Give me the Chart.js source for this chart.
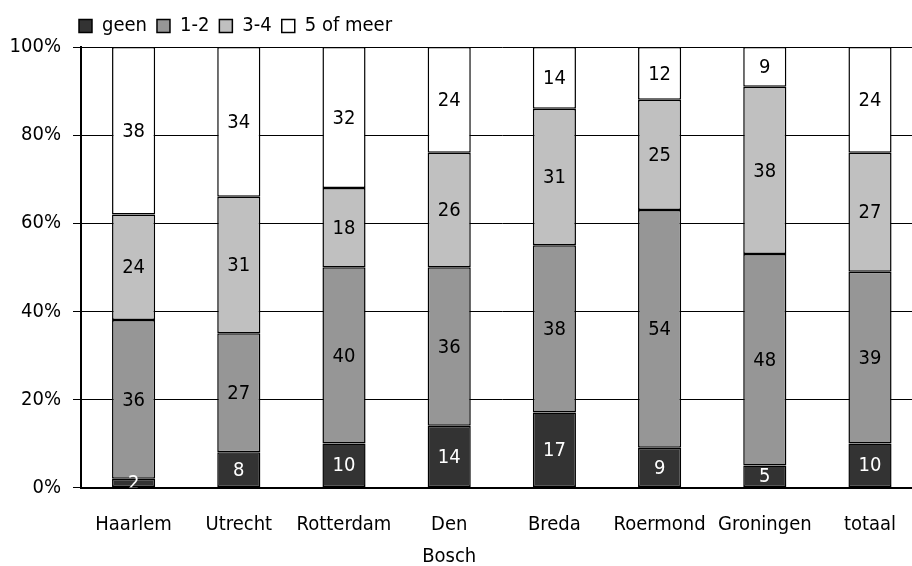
<!DOCTYPE html>
<html>
<head>
<meta charset="utf-8">
<script src="https://cdn.jsdelivr.net/npm/chart.js@4"></script>
<style>
  html, body { margin: 0; padding: 0; background: #fff; }
  #wrap { width: 912px; height: 566px; overflow: hidden; }
</style>
</head>
<body>
<div id="wrap"><canvas id="chart" width="930" height="566"></canvas></div>
<script>
/* ========= Data ========= */
const cities   = ['Haarlem', 'Utrecht', 'Rotterdam', ['Den', 'Bosch'], 'Breda', 'Roermond', 'Groningen', 'totaal'];
const geen     = [2, 8, 10, 14, 17, 9, 5, 10];
const een2     = [36, 27, 40, 36, 38, 54, 48, 39];
const drie4    = [24, 31, 18, 26, 31, 25, 38, 27];
const vijfPlus = [38, 34, 32, 24, 14, 12, 9, 24];
const yTicks   = [0, 20, 40, 60, 80, 100];

const FONT = "'DejaVu Sans Condensed', 'Liberation Sans Narrow', sans-serif";

/* ========= Plugins ========= */
// push legend to the right of the y axis and fix its height
const legendPos = {
  id: 'legendPos',
  beforeLayout(c) {
    const lg = c.legend;
    if (lg && !lg._patched) {
      const fit = lg.fit;
      lg.fit = function () { fit.call(this); this.height = 41; };
      lg._patched = true;
    }
  },
  afterLayout(c) { if (c.legend) c.legend.left = 69; }
};

// value in the middle of every segment
const segLabels = {
  id: 'segLabels',
  afterDatasetsDraw(c) {
    const ctx = c.ctx, a = c.chartArea;
    ctx.save();
    ctx.beginPath();
    ctx.rect(a.left, a.top, a.right - a.left, a.bottom - a.top);
    ctx.clip();
    ctx.font = '20px ' + FONT;
    ctx.textAlign = 'center';
    ctx.textBaseline = 'middle';
    c.data.datasets.forEach((ds, i) => {
      c.getDatasetMeta(i).data.forEach((bar, j) => {
        ctx.fillStyle = i === 0 ? '#ffffff' : '#000000';
        ctx.fillText(String(ds.data[j]), bar.x, (bar.y + bar.base) / 2 + 1);
      });
    });
    ctx.restore();
  }
};

/* ========= Chart ========= */
const mkSet = (label, data, color) => ({
  label, data,
  backgroundColor: color,
  borderColor: '#000000',
  borderWidth: 1.5,
  borderSkipped: false,
  barPercentage: 0.41,
  categoryPercentage: 1
});

new Chart(document.getElementById('chart'), {
  type: 'bar',
  data: {
    labels: cities,
    datasets: [
      mkSet('geen', geen, '#333333'),
      mkSet('1-2', een2, '#969696'),
      mkSet('3-4', drie4, '#c0c0c0'),
      mkSet('5 of meer', vijfPlus, '#ffffff')
    ]
  },
  options: {
    responsive: false,
    animation: false,
    layout: { padding: { top: 6, right: 7.4, left: 0, bottom: 0 } },
    plugins: {
      tooltip: { enabled: false },
      legend: {
        position: 'top',
        align: 'start',
        labels: {
          color: '#000',
          font: { family: FONT, size: 20 },
          boxWidth: 13,
          boxHeight: 13,
          padding: 10
        }
      }
    },
    scales: {
      x: {
        stacked: true,
        grid: { display: false, drawTicks: false },
        border: { display: true, color: '#000', width: 2 },
        ticks: {
          color: '#000',
          font: { family: FONT, size: 20, lineHeight: 1.62 },
          padding: 21,
          maxRotation: 0,
          autoSkip: false
        },
        afterFit(s) { s.height = 78.5; }
      },
      y: {
        stacked: true,
        min: 0,
        max: 100,
        afterBuildTicks(s) { s.ticks = yTicks.map(v => ({ value: v })); },
        grid: { color: '#000', lineWidth: 1, tickLength: 8, drawTicks: true },
        border: { display: true, color: '#000', width: 2 },
        ticks: {
          color: '#000',
          font: { family: FONT, size: 20 },
          padding: 12,
          callback: v => v + '%'
        },
        afterFit(s) { s.width = 81; }
      }
    }
  },
  plugins: [legendPos, segLabels]
});
</script>
</body>
</html>
